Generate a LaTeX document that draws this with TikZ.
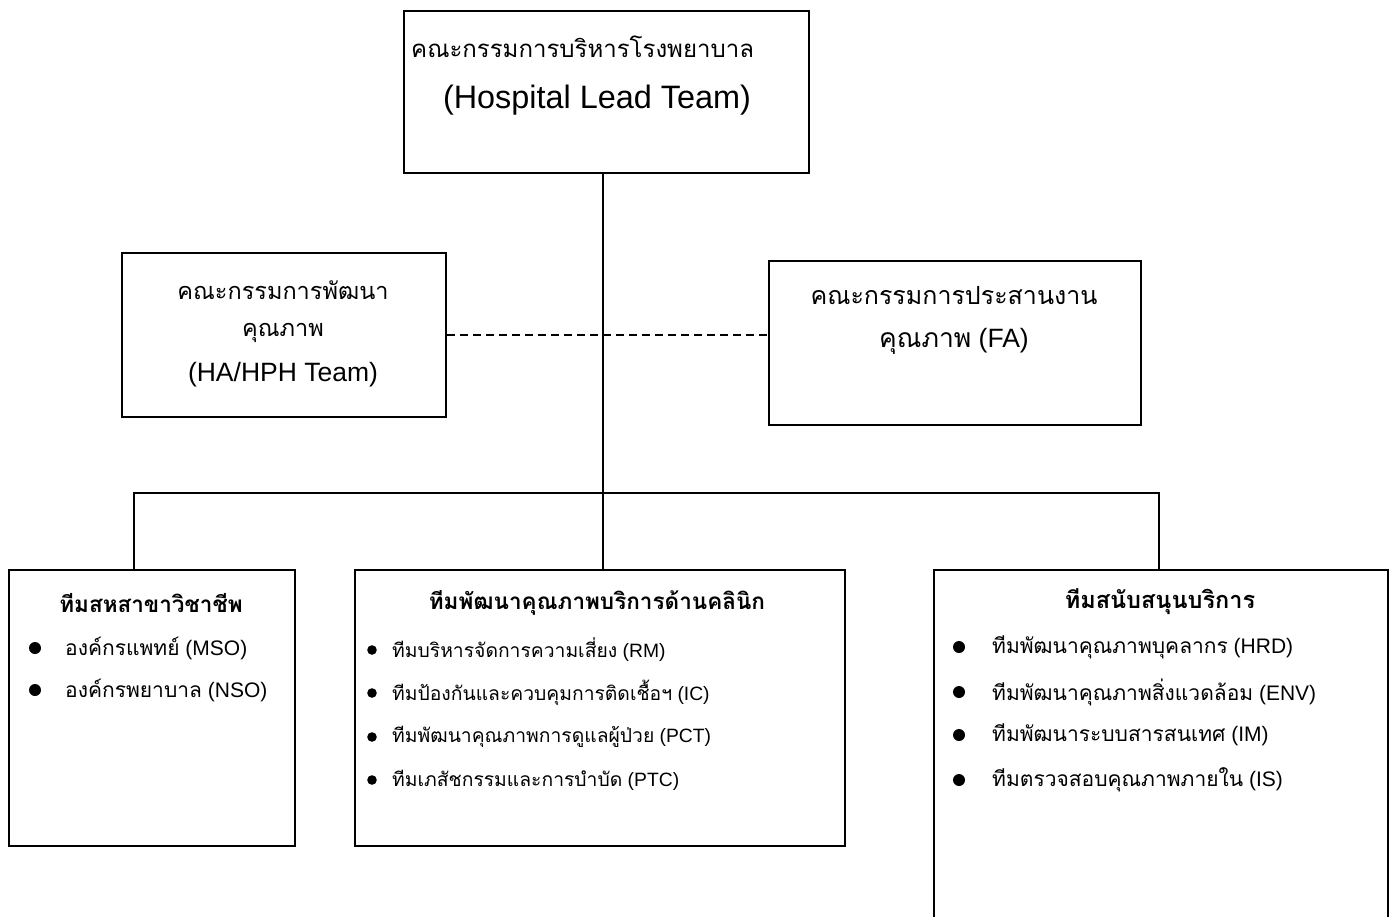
\documentclass[tikz,border=0pt]{standalone}
\usepackage{fontspec}
\setmainfont{Liberation Sans}
\newfontfamily\thaifont[Script=Thai]{Loma}
\newcommand\thx[1]{{\thaifont #1}}
\begin{document}
\begin{tikzpicture}[x=1pt,y=-1pt,
  box/.style={draw, line width=2pt, inner sep=0pt, anchor=north west},
  link/.style={line width=1.5pt},
  dashlink/.style={line width=1.5pt, dash pattern=on 8pt off 5pt},
  txt/.style={inner sep=0pt, anchor=center},
  itm/.style={inner sep=0pt, anchor=west, font=\fontsize{21}{25}\selectfont},
  itmm/.style={inner sep=0pt, anchor=west, font=\fontsize{19.3}{23}\selectfont},
  ttl/.style={inner sep=0pt, anchor=center, font=\fontsize{22.5}{26}\selectfont\bfseries},
  dot/.style={fill=black}]
\useasboundingbox (0,0) rectangle (1395,916);
\clip (0,0) rectangle (1395,916);
\fill[white] (0,0) rectangle (1395,916);

% boxes
\node[box, minimum width=405pt, minimum height=162pt] (lead) at (403,10) {};
\node[box, minimum width=324pt, minimum height=164pt] (ha) at (121,252) {};
\node[box, minimum width=372pt, minimum height=164pt] (fa) at (768,260) {};
\node[box, minimum width=286pt, minimum height=276pt] (lbox) at (8,569) {};
\node[box, minimum width=490pt, minimum height=276pt] (mbox) at (354,569) {};
\node[box, minimum width=454pt, minimum height=420pt] (rbox) at (933,569) {};

% connectors
\coordinate (hub) at (603,493);
\coordinate (ldrop) at (134,493);
\coordinate (rdrop) at (1159,493);
\draw[link] (hub |- lead.south) -- (hub |- mbox.north);
\draw[link] (ldrop |- lbox.north) -- (ldrop) -- (rdrop) -- (rdrop |- rbox.north);
\draw[dashlink] (ha.east) -- (ha.east -| fa.west);

% top box text
\node[txt, anchor=west, font=\fontsize{24}{30}\selectfont] (leadth) at (411,47) {\thx{คณะกรรมการบริหารโรงพยาบาล}};
\node[txt, font=\fontsize{32.4}{38}\selectfont] (leaden) at (597,100) {(Hospital Lead Team)};

% HA box text
\node[txt, font=\fontsize{23.5}{28}\selectfont] (ha1) at (283,290) {\thx{คณะกรรมการพัฒนา}};
\node[txt, font=\fontsize{23.5}{28}\selectfont] (ha2) at (283,333) {\thx{คุณภาพ}};
\node[txt, font=\fontsize{26.5}{30}\selectfont] (ha3) at (283,375) {(HA/HPH Team)};

% FA box text
\node[txt, font=\fontsize{25}{30}\selectfont] (fa1) at (954,296) {\thx{คณะกรรมการประสานงาน}};
\node[txt, font=\fontsize{26.5}{30}\selectfont] (fa2) at (954,341) {\thx{คุณภาพ} (FA)};

% left box
\node[ttl] (lt) at (151,603) {\thx{ทีมสหสาขาวิชาชีพ}};
\fill[dot] (35,648) circle (6pt);
\node[itm] (l1) at (65,648) {\thx{องค์กรแพทย์} (MSO)};
\fill[dot] (35,690) circle (6pt);
\node[itm] (l2) at (65,690) {\thx{องค์กรพยาบาล} (NSO)};

% middle box
\node[ttl] (mt) at (597,603) {\thx{ทีมพัฒนาคุณภาพบริการด้านคลินิก}};
\fill[dot] (372,650) circle (4.8pt);
\node[itmm] (m1) at (392,650) {\thx{ทีมบริหารจัดการความเสี่ยง} (RM)};
\fill[dot] (372,693) circle (4.8pt);
\node[itmm] (m2) at (392,693) {\thx{ทีมป้องกันและควบคุมการติดเชื้อฯ} (IC)};
\fill[dot] (372,737) circle (4.8pt);
\node[itmm] (m3) at (392,737) {\thx{ทีมพัฒนาคุณภาพการดูแลผู้ป่วย} (PCT)};
\fill[dot] (372,780) circle (4.8pt);
\node[itmm] (m4) at (392,780) {\thx{ทีมเภสัชกรรมและการบำบัด} (PTC)};

% right box
\node[ttl, font=\fontsize{23.5}{27}\selectfont\bfseries] (rt) at (1160,602) {\thx{ทีมสนับสนุนบริการ}};
\fill[dot] (959,647) circle (6pt);
\node[itm] (r1) at (992,647) {\thx{ทีมพัฒนาคุณภาพบุคลากร} (HRD)};
\fill[dot] (959,692) circle (6pt);
\node[itm] (r2) at (992,692) {\thx{ทีมพัฒนาคุณภาพสิ่งแวดล้อม} (ENV)};
\fill[dot] (959,735) circle (6pt);
\node[itm] (r3) at (992,735) {\thx{ทีมพัฒนาระบบสารสนเทศ} (IM)};
\fill[dot] (959,780) circle (6pt);
\node[itm] (r4) at (992,780) {\thx{ทีมตรวจสอบคุณภาพภายใน} (IS)};
\end{tikzpicture}
\end{document}
